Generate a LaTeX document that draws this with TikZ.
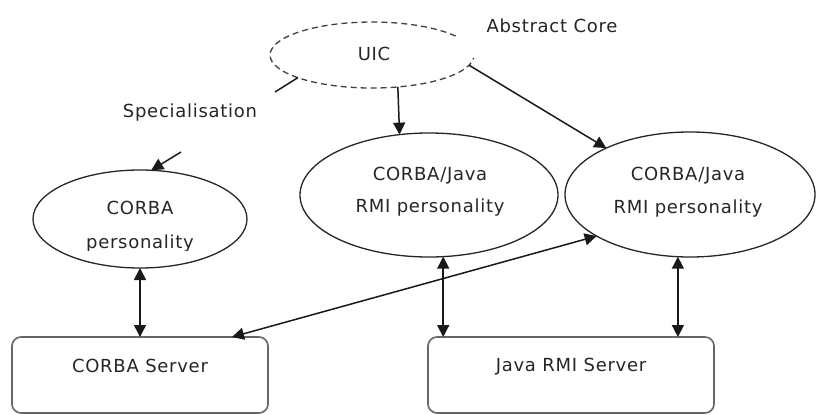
\documentclass[tikz,border=0pt]{standalone}
\usepackage{fontspec}
\setmainfont{DejaVu Sans}[LetterSpace=4]
\usetikzlibrary{arrows.meta,shapes.geometric}
\begin{document}
\begin{tikzpicture}[x=1pt,y=-1pt,
  every node/.style={font=\fontsize{18}{21}\selectfont, text=black!85},
  lbl/.style={anchor=base, inner sep=0pt},
  pers/.style={ellipse, draw=black!85, line width=1.3pt, inner sep=0pt, outer sep=0pt},
  srv/.style={rectangle, draw=black!60, line width=1.6pt, rounded corners=9pt, inner sep=0pt, outer sep=0pt},
  conn/.style={draw=black!90, line width=1.5pt},
  tip/.style={-{Triangle[length=12pt,width=12pt]}},
  both/.style={{Triangle[length=12pt,width=12pt]}-{Triangle[length=12pt,width=12pt]}}
]
\useasboundingbox (0,0) rectangle (817,415);
\fill[white] (0,0) rectangle (817,415);

% core (dashed, open on the right)
\node[ellipse, draw=none, inner sep=0pt, outer sep=0pt, minimum width=204pt, minimum height=66pt] (uic) at (372,55) {};
\draw[draw=black!75, line width=1.3pt, dash pattern=on 6pt off 4pt]
  (455.6,36.1) arc[start angle=35, end angle=355, x radius=102pt, y radius=33pt];

% personalities
\node[pers, minimum width=214pt, minimum height=98pt] (cp) at (140,219) {};
\node[pers, minimum width=258pt, minimum height=124pt] (mid) at (429,195) {};
\node[pers, minimum width=250pt, minimum height=125pt] (rp) at (690,194.5) {};

% servers
\node[srv, minimum width=256pt, minimum height=76pt] (cs) at (140,375) {};
\node[srv, minimum width=286pt, minimum height=76pt] (jr) at (571,375) {};

% texts
\node[lbl] (uictext) at (374,60) {UIC};
\node[lbl] (abs) at (552,32) {Abstract Core};
\node[lbl] (spec) at (190,117) {Specialisation};
\node[lbl] (cpt1) at (140,214) {CORBA};
\begin{scope}
  \clip (0,0) rectangle (817,250);
  \node[lbl] (cpt2) at (140,248) {personality};
\end{scope}
\node[lbl] (mt1) at (430,180) {CORBA/Java};
\node[lbl] (mt2) at (430,212) {RMI personality};
\node[lbl] (rt1) at (688,180) {CORBA/Java};
\node[lbl] (rt2) at (688,213) {RMI personality};
\node[lbl] (cst) at (140,372) {CORBA Server};
\node[lbl] (jrt) at (571,371) {Java RMI Server};

% connectors
\coordinate (s1) at (275,92);
\coordinate (s2) at (181,152);
\draw[conn] (uic.197) -- (s1);
\draw[conn, tip] (s2) -- (cp.77);
\draw[conn, tip] (uic.-51) -- (mid.116);
\draw[conn, tip] (uic.-6) -- (rp.151);
\draw[conn, both] (cp.south) -- (cp.south |- cs.north);
\draw[conn, both] (mid.-77) -- (mid.-77 |- jr.north);
\draw[conn, both] (rp.-101) -- (rp.-101 |- jr.north);
\draw[conn, both] ([xshift=92pt]cs.north) -- (rp.204);
\end{tikzpicture}
\end{document}
